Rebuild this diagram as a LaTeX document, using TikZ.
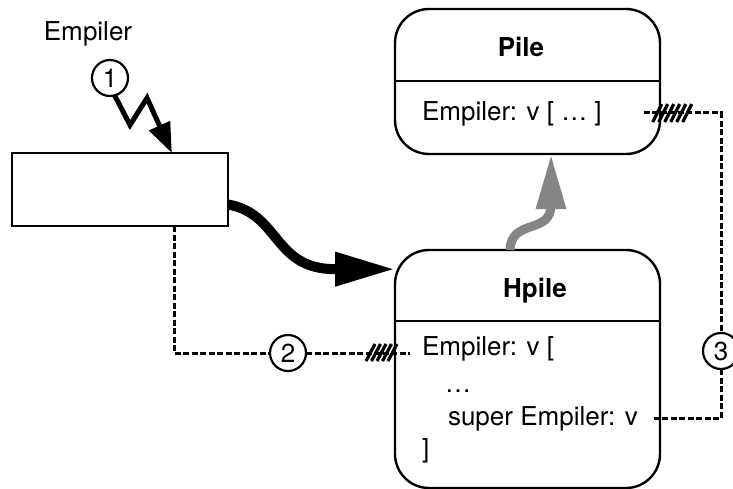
\documentclass[tikz,border=0pt]{standalone}
\usepackage{fontspec}
\setmainfont{TeX Gyre Heros}
\usetikzlibrary{arrows.meta,calc}
\begin{document}
\begin{tikzpicture}[
  x=1pt, y=-1pt,
  every node/.style={font=\fontsize{26}{31}\selectfont, inner sep=0pt, outer sep=0pt},
  classbox/.style={draw, line width=2.4pt, rounded corners=34pt, minimum width=265pt},
  divider/.style={line width=2.4pt},
  numcircle/.style={circle, draw, line width=2.2pt, minimum size=36pt, fill=white},
  link/.style={line width=3pt, dash pattern=on 6pt off 2.5pt},
  hatchstroke/.style={line width=3.2pt},
  bolt/.style={line width=5pt, line join=miter, -{Triangle[length=30pt,width=22pt]}},
  flow/.style={line width=10pt, -{Triangle[length=60pt,width=32pt]}},
  inherit/.style={line width=9pt, color=black!48, -{Triangle[length=55pt,width=28pt]}}
]
\useasboundingbox (0,0) rectangle (733,489);

% plain object box
\node[draw, line width=2.8pt, minimum width=216pt, minimum height=73pt] (src) at (120,189.5) {};

% class Pile
\node[classbox, minimum height=145pt] (pile) at (527.5,81.5) {};
\draw[divider] (pile.west |- 0,81) -- (pile.east |- 0,81);
\node[anchor=base, font=\fontsize{26}{31}\selectfont\bfseries] (piletitle) at (521,57) {Pile};
\node[anchor=base west] (pileattr) at (422,121) {Empiler: v [ … ]};

% class Hpile
\node[classbox, minimum height=238pt] (hpile) at (527.5,369) {};
\draw[divider] (hpile.west |- 0,321) -- (hpile.east |- 0,321);
\node[anchor=base, font=\fontsize{26}{31}\selectfont\bfseries] (hpiletitle) at (535,297) {Hpile};
\node[anchor=base west] (hattr1) at (422,355) {Empiler: v [};
\node[anchor=base west] (hattr2) at (445,392) {…};
\node[anchor=base west] (hattr3) at (448,425) {super Empiler: v};
\node[anchor=base west] (hattr4) at (422,457) {]};

% message label and sequence numbers
\node[anchor=base] (msg) at (88,41) {Empiler};
\node[numcircle] (c1) at (110,78) {1};
\node[numcircle] (c2) at (288,353) {2};
\node[numcircle] (c3) at (721,351) {3};

% message sent to the object
\draw[bolt] (c1.-75) -- (130,125) -- (147,98) -- ($(src.north west)!0.74!(src.north east)$);

% instantiation and inheritance arrows
\draw[flow] ([yshift=-15pt]src.east) .. controls +(52,9) and +(-62,0) .. ($(hpile.143)+(-60,0)$) -- (hpile.143);
\coordinate (g0) at ([xshift=-17.5pt]hpile.north);
\coordinate (g1) at ($(pile.south)+(23.5,51)$);
\draw[inherit] (g0) .. controls +(1,-32) and +(0,30) .. (g1) -- (pile.south -| g1);

% dispatch path 2: object to Hpile's Empiler
\coordinate (s2) at ($(src.south west)+(162,0)$);
\coordinate (e2) at ([xshift=-12pt,yshift=2pt]hattr1.base west);
\draw[link] (s2) |- (c2);
\draw[link] (c2) -- (e2);
\foreach \d in {0,5.5,...,27}
  \draw[hatchstroke] ($(e2)+(-44+\d,8)$) -- ++(9,-17);

% dispatch path 3: super call up to Pile's Empiler
\coordinate (s3) at ([xshift=42pt,yshift=8pt]pileattr.base east);
\coordinate (e3) at ([xshift=14pt,yshift=7pt]hattr3.base east);
\draw[link] (s3) -| (c3);
\draw[link] (c3) |- (e3);
\foreach \d in {0,6,...,30}
  \draw[hatchstroke] ($(s3)+(9+\d,9)$) -- ++(9,-18);
\end{tikzpicture}
\end{document}
